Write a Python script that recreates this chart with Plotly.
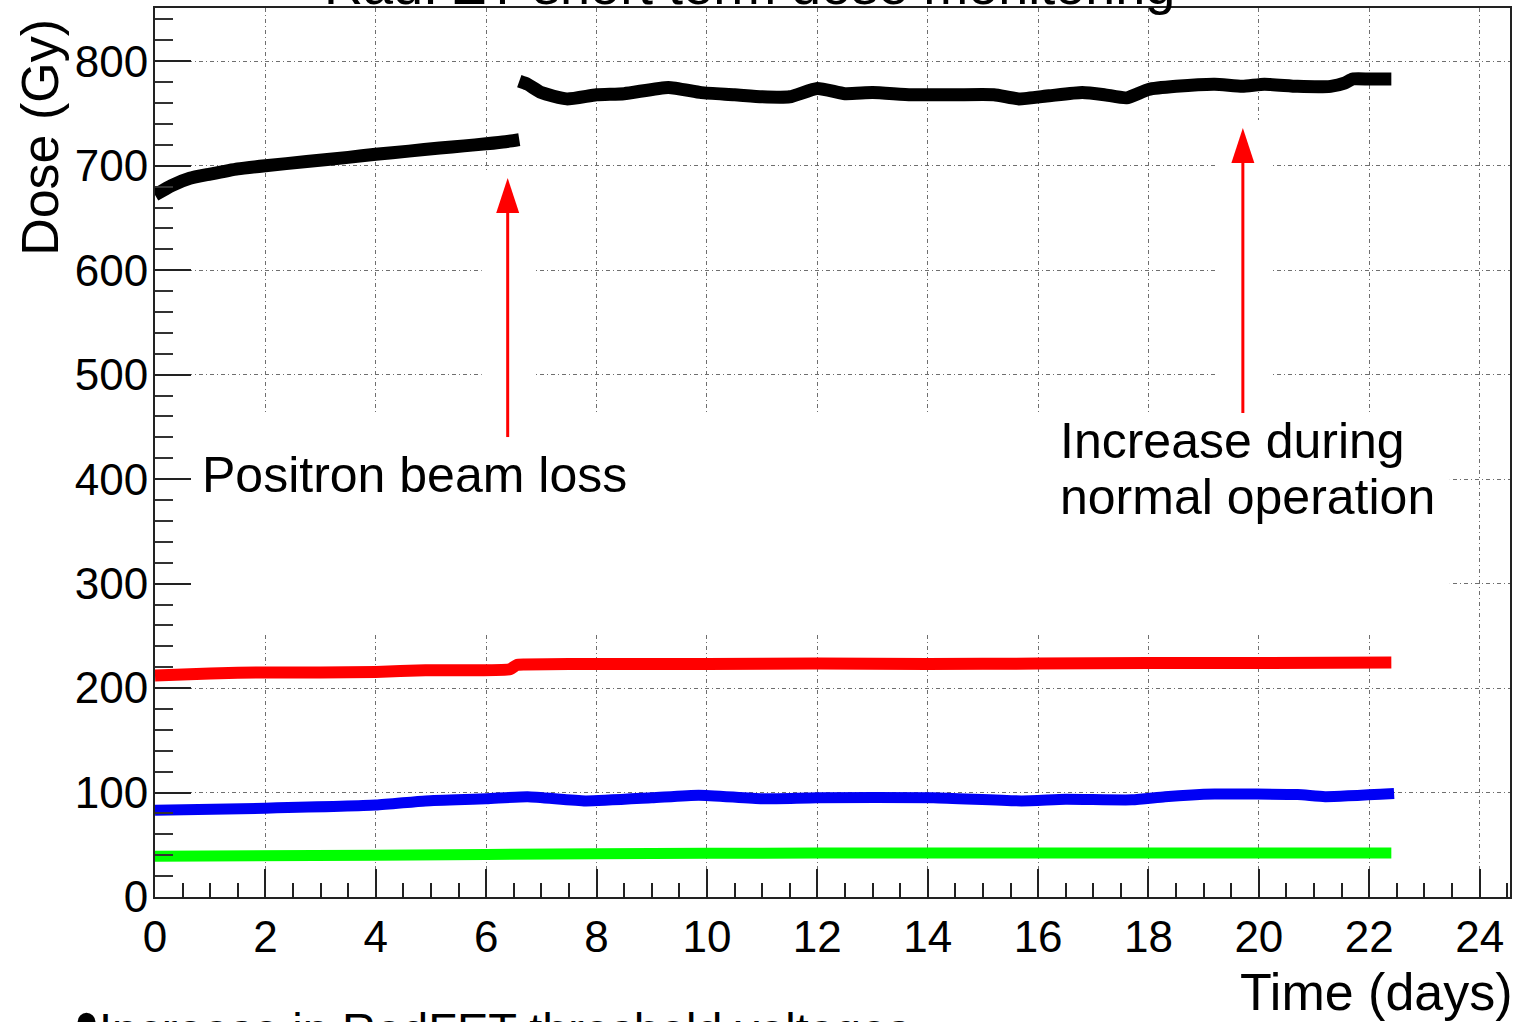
import plotly.graph_objects as go

# ---------------- data ----------------
black1_days = [0, 0.3, 0.63, 1.0, 1.5, 2.0, 2.75, 3.5, 4.0, 4.6, 5.16, 5.6, 6.0, 6.35, 6.6]
black1_dose = [672, 681, 688, 692, 697, 700, 704, 708, 711, 714, 717, 719, 721, 723, 725]

black2_days = [6.6, 6.75, 7.0, 7.46, 8.0, 8.5, 9.3, 9.9, 10.5, 11.0, 11.5, 12.0, 12.5, 13.0,
               13.7, 14.5, 15.2, 15.65, 16.2, 16.8, 17.2, 17.6, 18.0, 18.5, 19.2, 19.7,
               20.1, 20.7, 21.3, 21.55, 21.7, 22.0, 22.4]
black2_dose = [781, 778, 770, 764, 768, 769, 775, 770, 768, 766, 766, 774, 769, 770,
               768, 768, 768, 764, 767, 770, 768, 765, 773, 776, 778, 776,
               778, 776, 776, 779, 783, 783, 783]

red_days = [0, 1.0, 2.0, 3.0, 4.0, 4.9, 5.5, 6.43, 6.55, 6.7, 7.5, 8.0, 10, 12, 14, 16, 18, 20, 22.4]
red_dose = [212, 214, 215, 215, 215.5, 217, 217, 218, 222, 222.5, 223, 223, 223, 223.5, 223,
            223.5, 224, 224, 224.5]

blue_days = [0, 2.0, 4.0, 4.9, 6.0, 6.75, 7.8, 9.0, 9.85, 11.0, 12.0, 14.1, 15.7, 16.5,
             17.7, 18.3, 19.2, 20.7, 21.2, 22.45]
blue_dose = [83, 85, 88, 92, 94, 96, 92, 95, 97.5, 94, 95, 95, 92, 93.5, 93, 96, 98.5, 98, 96, 99]

green_days = [0, 4, 8, 12, 16, 20, 22.4]
green_dose = [39, 40, 41.5, 42, 42, 42, 42]

x_tickvals = [0, 2, 4, 6, 8, 10, 12, 14, 16, 18, 20, 22, 24]
y_tickvals = [0, 100, 200, 300, 400, 500, 600, 700, 800]

title_text = "Rad. ZT short term dose monitoring"
x_title = "Time (days)"
y_title = "Dose (Gy)"
note_beam = "Positron beam loss"
note_incr1 = "Increase during"
note_incr2 = "normal operation"
footer_bullet = "\u2022"
footer_text = "Increase in RadFET threshold voltages"

# ---------------- figure ----------------
FONT = "Liberation Sans, Arial, sans-serif"

fig = go.Figure()
series = [
    (black1_days, black1_dose, "#000000", 13),
    (black2_days, black2_dose, "#000000", 13),
    (red_days, red_dose, "#ff0000", 12),
    (blue_days, blue_dose, "#0000f5", 11),
    (green_days, green_dose, "#00ff00", 11),
]
for xs, ys, col, lw in series:
    fig.add_trace(go.Scatter(x=xs, y=ys, mode="lines",
                             line=dict(color=col, width=lw, shape="spline", smoothing=0.5),
                             showlegend=False, hoverinfo="skip"))

# white masks (pasted text boxes hide the grid)
masks = [
    (0.04, 23.46, 253.7, 464.2),
    (5.92, 6.88, 464.2, 694.0),
    (19.26, 20.25, 464.2, 743.8),
]
for x0, x1, y0, y1 in masks:
    fig.add_shape(type="rect", xref="x", yref="y", x0=x0, x1=x1, y0=y0, y1=y1,
                  fillcolor="white", line=dict(width=0), layer="between")

# red arrows: (x, shaft bottom, head base, tip)
arrows = [
    (6.39, 440.3, 655.0, 688.2),
    (19.71, 463.3, 703.0, 736.1),
]
for ax, yb, ybase, ytip in arrows:
    fig.add_shape(type="line", xref="x", yref="y", x0=ax, x1=ax, y0=yb, y1=ybase + 2,
                  line=dict(color="#ff0000", width=3), layer="above")
    fig.add_shape(type="path", xref="x", yref="y", xsizemode="pixel", ysizemode="pixel",
                  xanchor=ax, yanchor=ytip, path="M -11.5,-35 L 11.5,-35 L 0,0 Z",
                  fillcolor="#ff0000", line=dict(width=0), layer="above")

grid_common = dict(showgrid=True, gridcolor="#6f6f6f", gridwidth=1,
                   griddash="4px,3px,1px,3px", zeroline=False,
                   showline=True, linecolor="#222", linewidth=2, mirror=True,
                   ticks="inside", tickcolor="#222", tickwidth=2,
                   tickfont=dict(family=FONT, size=44, color="black"),
                   automargin=False)

fig.update_xaxes(range=[0, 24.55], tickvals=x_tickvals, ticklen=28,
                 minor=dict(dtick=0.5, tick0=0, ticks="inside", ticklen=14,
                            tickcolor="#222", tickwidth=2, showgrid=False),
                 ticklabelstandoff=0, **grid_common)
fig.update_yaxes(range=[0, 851], tickvals=y_tickvals, ticklen=36,
                 minor=dict(dtick=20, tick0=0, ticks="inside", ticklen=18,
                            tickcolor="#333", tickwidth=2, showgrid=False),
                 ticklabelstandoff=-4, **grid_common)

ann = []
ann.append(dict(text=title_text, xref="paper", yref="paper", x=0.4384, y=1.0259,
                xanchor="center", yanchor="middle", showarrow=False,
                font=dict(family=FONT, size=54, color="black")))
ann.append(dict(text=y_title, xref="paper", yref="paper", x=-0.0849, y=0.855,
                xanchor="center", yanchor="middle", textangle=-90, showarrow=False,
                font=dict(family=FONT, size=52, color="black")))
ann.append(dict(text=x_title, xref="paper", yref="paper", x=1.0037, y=-0.1069,
                xanchor="right", yanchor="middle", showarrow=False,
                font=dict(family=FONT, size=52, color="black")))
ann.append(dict(text=footer_bullet, xref="paper", yref="paper", x=-0.0605, y=-0.1400,
                xanchor="left", yanchor="middle", showarrow=False,
                font=dict(family=FONT, size=66, color="black")))
ann.append(dict(text=footer_text, xref="paper", yref="paper", x=-0.0430, y=-0.1485,
                xanchor="left", yanchor="middle", showarrow=False,
                font=dict(family=FONT, size=47, color="black")))
ann.append(dict(text=note_beam, xref="paper", yref="paper", x=0.0332, y=0.4752,
                xanchor="left", yanchor="middle", showarrow=False,
                font=dict(family=FONT, size=50, color="black")))
ann.append(dict(text=note_incr1, xref="paper", yref="paper", x=0.6664, y=0.5124,
                xanchor="left", yanchor="middle", showarrow=False,
                font=dict(family=FONT, size=50, color="black")))
ann.append(dict(text=note_incr2, xref="paper", yref="paper", x=0.6664, y=0.4494,
                xanchor="left", yanchor="middle", showarrow=False,
                font=dict(family=FONT, size=50, color="black")))

fig.update_layout(width=1521, height=1022,
                  margin=dict(l=155, r=11, t=8, b=125, pad=0),
                  paper_bgcolor="white", plot_bgcolor="white",
                  annotations=ann, showlegend=False)

fig.write_html("out.html", config={"displayModeBar": False})
